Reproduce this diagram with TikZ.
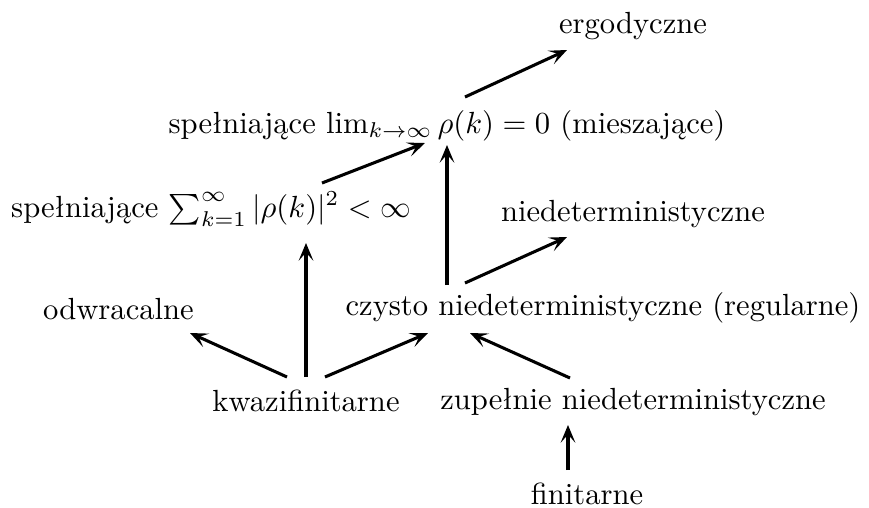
\documentclass[tikz,border=0pt]{standalone}
\usepackage{fontspec}
\usetikzlibrary{arrows.meta}
\begin{document}
\begin{tikzpicture}[x=0.3268pt,y=-0.3268pt,
  lbl/.style={anchor=base, inner sep=0pt, font=\fontsize{10}{12}\selectfont},
  arr/.style={-{Stealth[length=5.8pt,width=4.8pt,inset=2.7pt]}, line width=1pt}]
\useasboundingbox (0,0) rectangle (869,507);
\node[lbl] (erg) at (633,33) {ergodyczne};
\node[lbl] (mix) at (447,133) {spełniające $\lim_{k\to\infty}\rho(k)=0$ (mieszające)};
\node[lbl] (sum) at (211,217) {spełniające $\sum_{k=1}^{\infty}|\rho(k)|^2<\infty$};
\node[lbl] (nd) at (633,221) {niedeterministyczne};
\node[lbl] (od) at (118.5,319) {odwracalne};
\node[lbl] (cz) at (603,315) {czysto niedeterministyczne (regularne)};
\node[lbl] (kw) at (306,411) {kwazifinitarne};
\node[lbl] (zup) at (633,409) {zupełnie niedeterministyczne};
\node[lbl] (fin) at (587,504) {finitarne};
\draw[arr] ([shift={(18,-36)}]mix.base) -- ([shift={(-66,17)}]erg.base);
\draw[arr] ([shift={(111,-34)}]sum.base) -- ([shift={(-22,10)}]mix.base);
\draw[arr] ([shift={(-156,-30)}]cz.base) -- ([shift={(0,12)}]mix.base);
\draw[arr] ([shift={(-138,-32)}]cz.base) -- ([shift={(-66,16)}]nd.base);
\draw[arr] ([shift={(-19,-34)}]kw.base) -- ([shift={(71.5,14)}]od.base);
\draw[arr] ([shift={(0,-34)}]kw.base) -- ([shift={(95,26)}]sum.base);
\draw[arr] ([shift={(19,-34)}]kw.base) -- ([shift={(-175,18)}]cz.base);
\draw[arr] ([shift={(-63,-31)}]zup.base) -- ([shift={(-133,18)}]cz.base);
\draw[arr] ([shift={(-19,-34)}]fin.base) -- ([shift={(-65,16)}]zup.base);
\end{tikzpicture}
\end{document}
